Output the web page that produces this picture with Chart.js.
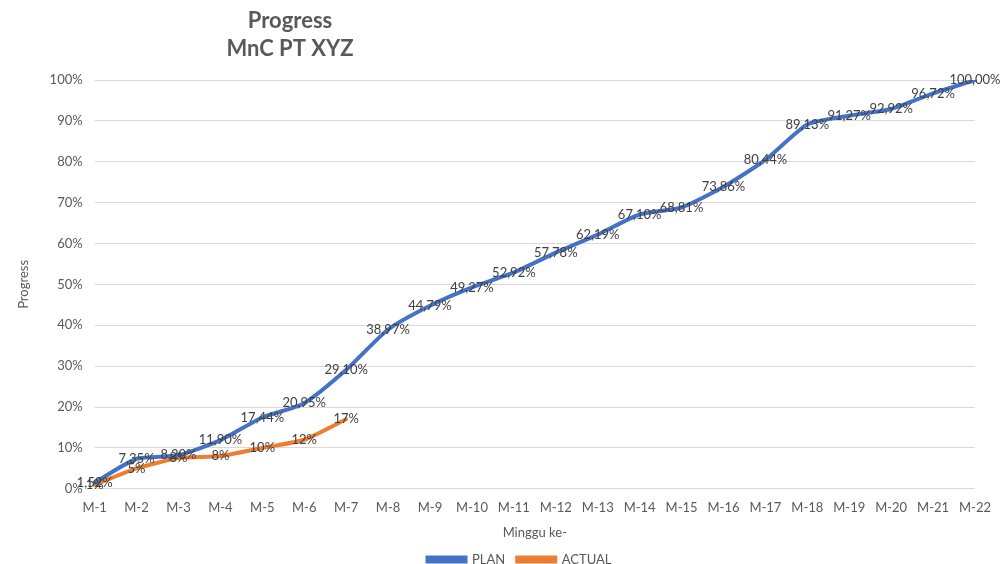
<!DOCTYPE html>
<html>
<head>
<meta charset="utf-8">
<script src="https://cdn.jsdelivr.net/npm/chart.js@4/dist/chart.umd.min.js"></script>
<style>
  html, body { margin: 0; padding: 0; background: #fff; }
  #wrap { width: 1005px; height: 564px; position: relative; }
</style>
</head>
<body>
<div id="wrap"><canvas id="c"></canvas></div>
<script>
// data
const weeks = ['M-1','M-2','M-3','M-4','M-5','M-6','M-7','M-8','M-9','M-10','M-11',
  'M-12','M-13','M-14','M-15','M-16','M-17','M-18','M-19','M-20','M-21','M-22'];
const planValues = [1.52, 7.35, 8.20, 11.90, 17.44, 20.95, 29.10, 38.97, 44.79, 49.27, 52.92,
  57.78, 62.19, 67.10, 68.81, 73.86, 80.44, 89.13, 91.27, 92.92, 96.72, 100.00];
const actualValues = [1, 5, 7.5, 8, 10, 12, 17];
const titleLines = ['Progress', 'MnC PT XYZ'];

const FONT = 'Lato, "Open Sans", sans-serif';
const GREY = '#595959';

// judul dua baris, digeser ke kiri seperti di Excel
const titlePlugin = {
  id: 'sideTitle',
  afterDraw(chart) {
    const ctx = chart.ctx;
    ctx.save();
    ctx.fillStyle = GREY;
    ctx.font = 'bold 22px ' + FONT;
    ctx.textAlign = 'center';
    ctx.textBaseline = 'middle';
    titleLines.forEach((t, i) => ctx.fillText(t, 290, 21 + i * 28));
    ctx.restore();
  }
};

// legend digeser sedikit ke kanan (padding kanan dipakai untuk area plot)
const legendShift = {
  id: 'legendShift',
  afterLayout(chart) {
    const l = chart.legend;
    if (!l) return;
    l.left += 26;
    l.right += 26;
  }
};

// label nilai di tengah titik
const valueLabels = {
  id: 'valueLabels',
  afterDatasetsDraw(chart) {
    const ctx = chart.ctx;
    ctx.save();
    ctx.font = '13px ' + FONT;
    ctx.fillStyle = '#404040';
    ctx.textAlign = 'center';
    ctx.textBaseline = 'middle';
    chart.data.datasets.forEach((ds, di) => {
      const meta = chart.getDatasetMeta(di);
      meta.data.forEach((pt, i) => {
        const v = ds.data[i];
        if (v == null) return;
        const txt = ds.decimals ? v.toFixed(ds.decimals).replace('.', ',') + '%' : Math.round(v) + '%';
        ctx.fillText(txt, pt.x, pt.y);
      });
    });
    ctx.restore();
  }
};

new Chart(document.getElementById('c'), {
  type: 'line',
  data: {
    labels: weeks,
    datasets: [
      {
        label: 'PLAN',
        data: planValues,
        decimals: 2,
        borderColor: '#4472C4',
        backgroundColor: '#4472C4',
        borderWidth: 4,
        pointRadius: 0,
        tension: 0.2,
        borderCapStyle: 'round',
      },
      {
        label: 'ACTUAL',
        data: actualValues,
        decimals: 0,
        borderColor: '#ED7D31',
        backgroundColor: '#ED7D31',
        borderWidth: 4,
        pointRadius: 0,
        tension: 0.2,
        borderCapStyle: 'round',
      },
    ],
  },
  options: {
    responsive: true,
    maintainAspectRatio: false,
    animation: false,
    layout: { padding: { top: 80, right: 30, left: 12, bottom: -12 } },
    scales: {
      x: {
        grid: { display: false },
        border: { display: false },
        ticks: { color: GREY, font: { size: 13, family: FONT }, maxRotation: 0, autoSkip: false, padding: 3 },
        title: { display: true, text: 'Minggu ke-', color: GREY, font: { size: 13, family: FONT }, padding: { top: 7, bottom: 0 } },
      },
      y: {
        min: 0,
        max: 100,
        grid: { color: '#d9d9d9', lineWidth: 1, drawTicks: false },
        border: { display: false },
        ticks: {
          stepSize: 10,
          color: GREY,
          font: { size: 13, family: FONT },
          padding: 12,
          callback: v => v + '%',
        },
        title: { display: true, text: 'Progress', color: GREY, font: { size: 13, family: FONT }, padding: { bottom: 6 } },
      },
    },
    plugins: {
      legend: {
        position: 'bottom',
        labels: {
          color: GREY,
          font: { size: 13, family: FONT },
          boxWidth: 38,
          boxHeight: 4,
          padding: 12,
        },
      },
      tooltip: { enabled: false },
    },
  },
  plugins: [titlePlugin, legendShift, valueLabels],
});
</script>
</body>
</html>
